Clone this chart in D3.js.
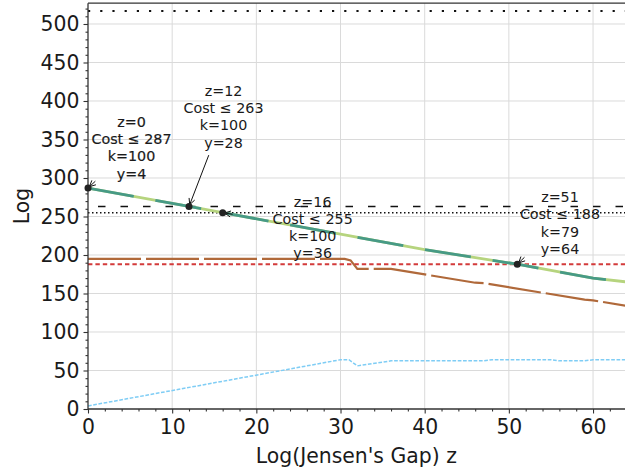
<!DOCTYPE html>
<html>
<head>
<meta charset="utf-8">
<script src="https://cdn.jsdelivr.net/npm/d3@7"></script>
<style>
  body { margin: 0; background: #fff; }
  text { font-family: "DejaVu Sans", sans-serif; }
</style>
</head>
<body>
<svg id="chart" width="625" height="473"></svg>
<script>
// ---- data ----
// cost bound along z (main two-tone line)
const zCost = [0, 12, 16, 30, 40, 51, 60, 64];
const costBound = [287, 263, 255, 227, 207, 188, 170, 165];

// secondary bound (brown long-dash line)
const zBrown = [0, 30.5, 31.2, 32, 36, 46, 47, 59, 60, 64];
const brownVals = [195, 195, 193, 182, 182, 164, 163.5, 142, 141, 134];

// y as a function of z (light blue dashed line)
const zBlue = [0, 30, 31, 32, 36, 47, 48, 55, 56, 59, 60, 64];
const blueVals = [4, 64, 64, 56, 62.5, 62.5, 64, 64, 62.5, 62.5, 64, 64];

// horizontal reference levels
const levelTop = 517;
const levelDashed = 263;
const levelDotted = 255;
const levelRed = 188;

// annotated points
const annZ = [0, 12, 16, 51];
const annCost = [287, 263, 255, 188];
const annK = [100, 100, 100, 79];
const annY = [4, 28, 36, 64];

// axis ticks
const xTicks = [0, 10, 20, 30, 40, 50, 60];
const yTicks = [0, 50, 100, 150, 200, 250, 300, 350, 400, 450, 500];
const xLabel = "Log(Jensen's Gap) z";
const yLabel = "Log";

// ---- layout ----
const svg = d3.select("#chart");
const L = 88, R = 626.7, T = 3.2, B = 409;
const x = d3.scaleLinear().domain([0, 64]).range([L, R]);
const y = d3.scaleLinear().domain([0, 527]).range([B, T]);
const axisFont = "20.4px";

svg.append("defs").append("clipPath").attr("id", "plotclip")
  .append("rect").attr("x", L).attr("y", T).attr("width", R - L).attr("height", B - T);

// grid
const grid = svg.append("g").attr("stroke", "#dadada").attr("stroke-width", 1);
xTicks.filter(d => d > 0).forEach(d => {
  grid.append("line").attr("x1", x(d)).attr("x2", x(d)).attr("y1", T).attr("y2", B);
});
yTicks.filter(d => d > 0).forEach(d => {
  grid.append("line").attr("x1", L).attr("x2", R).attr("y1", y(d)).attr("y2", y(d));
});

const plot = svg.append("g").attr("clip-path", "url(#plotclip)");

function hline(v, color, width, dash, offset) {
  plot.append("line")
    .attr("x1", x(0)).attr("x2", x(64)).attr("y1", y(v)).attr("y2", y(v))
    .attr("stroke", color).attr("stroke-width", width)
    .attr("stroke-dasharray", dash).attr("stroke-dashoffset", offset || 0);
}
hline(levelTop, "#111", 2, "2.2,10", 0);
hline(levelDashed, "#111", 1.5, "7.5,15", 12.5);
hline(levelDotted, "#111", 1.5, "1.5,2.5", 0);
hline(levelRed, "#d33b3b", 2, "4.4,3", 0);

const line = d3.line().x(d => x(d[0])).y(d => y(d[1]));

// y curve
plot.append("path")
  .datum(zBlue.map((z, i) => [z, blueVals[i]]))
  .attr("d", line).attr("fill", "none")
  .attr("stroke", "#7fcdf5").attr("stroke-width", 1.5)
  .attr("stroke-dasharray", "3.7,1.6");

// secondary bound
plot.append("path")
  .datum(zBrown.map((z, i) => [z, brownVals[i]]))
  .attr("d", line).attr("fill", "none")
  .attr("stroke", "#b0693a").attr("stroke-width", 2.2)
  .attr("stroke-dasharray", "53,5");

// main cost bound: light green underneath, teal dashes on top
const costData = zCost.map((z, i) => [z, costBound[i]]);
plot.append("path").datum(costData).attr("d", line).attr("fill", "none")
  .attr("stroke", "#b6d47e").attr("stroke-width", 2.8);
plot.append("path").datum(costData).attr("d", line).attr("fill", "none")
  .attr("stroke", "#479a86").attr("stroke-width", 2.8)
  .attr("stroke-dasharray", "46.5,22");

// spines
const spines = svg.append("g").attr("stroke", "#333").attr("stroke-width", 1.3);
spines.append("line").attr("x1", L).attr("x2", L).attr("y1", T).attr("y2", B);
spines.append("line").attr("x1", L).attr("x2", R).attr("y1", B).attr("y2", B);
spines.append("line").attr("x1", L).attr("x2", R).attr("y1", T).attr("y2", T);
spines.append("line").attr("x1", R).attr("x2", R).attr("y1", T).attr("y2", B);

// axes
const xMinor = d3.range(0, 65, 2).filter(d => d % 10 !== 0);
const yMinor = d3.range(0, 527, 10).filter(d => d % 50 !== 0);

function styleAxis(g) {
  g.select(".domain").remove();
  g.selectAll(".tick line").attr("stroke", "#333").attr("stroke-width", 1.1);
  g.selectAll(".tick text").attr("fill", "#1a1a1a").style("font-size", axisFont)
    .style("font-family", "'DejaVu Sans', sans-serif");
}
svg.append("g").attr("transform", `translate(0,${B})`)
  .call(d3.axisBottom(x).tickValues(xMinor).tickSize(2.5).tickFormat(""))
  .call(styleAxis);
svg.append("g").attr("transform", `translate(0,${B})`)
  .call(d3.axisBottom(x).tickValues(xTicks).tickSize(4.5).tickPadding(6.5).tickFormat(d3.format("d")))
  .call(styleAxis);
svg.append("g").attr("transform", `translate(${L},0)`)
  .call(d3.axisLeft(y).tickValues(yMinor).tickSize(2.5).tickFormat(""))
  .call(styleAxis);
svg.append("g").attr("transform", `translate(${L},0)`)
  .call(d3.axisLeft(y).tickValues(yTicks).tickSize(4.5).tickPadding(4).tickFormat(d3.format("d")))
  .call(styleAxis);

svg.append("text").attr("x", (L + R) / 2 - 1).attr("y", 463)
  .attr("text-anchor", "middle").attr("fill", "#1a1a1a")
  .style("font-size", axisFont).text(xLabel);
svg.append("text").attr("transform", "translate(28.5,206) rotate(-90)")
  .attr("text-anchor", "middle").attr("fill", "#1a1a1a")
  .style("font-size", axisFont).text(yLabel);

// ---- annotations ----
// text offsets (px) of first baseline from the point, and arrow stem length
const annDx = [43.5, 34.5, 90, 42.7];
const annDy = [-61, -110.5, -6, -62];
const arrowLen = [10, 55, 10, 10];
const lineH = 17.2;

const ann = svg.append("g");
annZ.forEach((z, i) => {
  const px = x(z), py = y(annCost[i]);
  const tx = px + annDx[i], ty = py + annDy[i];
  const lines = [`z=${z}`, `Cost \u2264 ${annCost[i]}`, `k=${annK[i]}`, `y=${annY[i]}`];
  const t = ann.append("text").attr("text-anchor", "middle")
    .attr("fill", "#1a1a1a").style("font-size", "14.3px");
  if (i === 0) t.attr("stroke", "#1a1a1a").attr("stroke-width", 0.18);
  lines.forEach((s, j) => {
    t.append("tspan").attr("x", tx).attr("y", ty + j * lineH).text(s);
  });
  // arrow from text block toward the point
  const cx = tx, cy = ty + 1.5 * lineH - 5;
  let vx = cx - px, vy = cy - py;
  const n = Math.hypot(vx, vy); vx /= n; vy /= n;
  const sx = px + vx * arrowLen[i], sy = py + vy * arrowLen[i];
  const ex = px + vx * 2, ey = py + vy * 2;
  ann.append("line").attr("x1", sx).attr("y1", sy).attr("x2", ex).attr("y2", ey)
    .attr("stroke", "#111").attr("stroke-width", 1);
  const hl = 6, hw = 3;
  const bx = ex + vx * hl, by = ey + vy * hl;
  const nx = -vy, ny = vx;
  ann.append("path")
    .attr("d", `M${bx + nx * hw},${by + ny * hw}L${ex},${ey}L${bx - nx * hw},${by - ny * hw}`)
    .attr("fill", "none").attr("stroke", "#111").attr("stroke-width", 1);
  // marker dot
  ann.append("circle").attr("cx", px).attr("cy", py).attr("r", 3.5).attr("fill", "#222");
});
</script>
</body>
</html>
